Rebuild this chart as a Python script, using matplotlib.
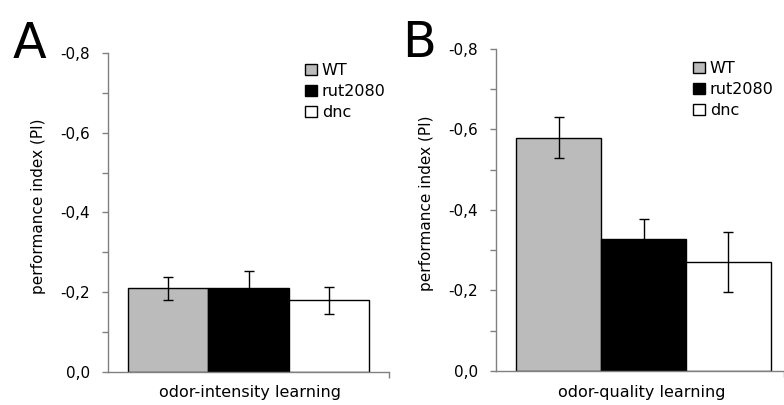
import matplotlib.pyplot as plt
from matplotlib.patches import Patch

groups = ["WT", "rut2080", "dnc"]
colors = ["#bbbbbb", "#000000", "#ffffff"]

intensity_pi = [-0.21, -0.21, -0.18]
intensity_err = [0.029, 0.043, 0.034]

quality_pi = [-0.58, -0.327, -0.27]
quality_err = [0.05, 0.05, 0.075]

yticks = [0.0, -0.2, -0.4, -0.6, -0.8]
yminor = [-0.1, -0.3, -0.5, -0.7]

fig = plt.figure(figsize=(7.84, 4.05), dpi=100)
axA = fig.add_axes([0.1378, 0.0815, 0.3584, 0.7877])
axB = fig.add_axes([0.6327, 0.0840, 0.3673, 0.7950])


def draw(ax, vals, errs, xlim):
    x = list(range(len(vals)))
    ax.bar(x, vals, width=1.0, color=colors, edgecolor="black", linewidth=1.0,
           yerr=errs, error_kw=dict(ecolor="black", elinewidth=1.0, capsize=3.5, capthick=1.0))
    ax.set_xlim(*xlim)
    ax.set_ylim(0, -0.8)
    ax.set_yticks(yticks)
    ax.set_yticks(yminor, minor=True)
    ax.set_yticklabels([("%.1f" % v).replace(".", ",") if v != 0 else "0,0" for v in yticks])
    # only a small tick at the right end of the x axis
    ax.set_xticks([xlim[1] - 0.005])
    ax.set_xticklabels([""])
    for s in ["top", "right"]:
        ax.spines[s].set_visible(False)
    for s in ["left", "bottom"]:
        ax.spines[s].set_color("#808080")
        ax.spines[s].set_linewidth(1.0)
    ax.tick_params(axis="both", which="both", direction="out", length=4, width=1.0,
                   color="#808080", labelsize=11, pad=9)


draw(axA, intensity_pi, intensity_err, (-0.749, 2.749))
draw(axB, quality_pi, quality_err, (-0.735, 2.653))

handles = [Patch(facecolor=c, edgecolor="black", linewidth=1.0, label=g) for g, c in zip(groups, colors)]
for ax, (lx, ly) in [(axA, (305, 63)), (axB, (693, 61))]:
    ax.legend(handles=handles, loc="upper left", bbox_to_anchor=(lx / 784, 1 - ly / 405),
              bbox_transform=fig.transFigure, frameon=False, borderpad=0, fontsize=11.5,
              handlelength=0.75, handleheight=0.75, handletextpad=0.3, labelspacing=0.38,
              borderaxespad=0)

fig.text(39 / 784, 1 - 206 / 405, "performance index (PI)", rotation=90, ha="center", va="center", fontsize=11)
fig.text(427 / 784, 1 - 203 / 405, "performance index (PI)", rotation=90, ha="center", va="center", fontsize=11)

fig.text(250 / 784, 1 - 385 / 405, "odor-intensity learning", ha="center", va="top", fontsize=11.5)
fig.text(642 / 784, 1 - 385 / 405, "odor-quality learning", ha="center", va="top", fontsize=11.5)

fig.text(13 / 784, 1 - 58 / 405, "A", ha="left", va="baseline", fontsize=35.5)
fig.text(402 / 784, 1 - 57 / 405, "B", ha="left", va="baseline", fontsize=35.5)

plt.savefig("out.png", dpi=100)
